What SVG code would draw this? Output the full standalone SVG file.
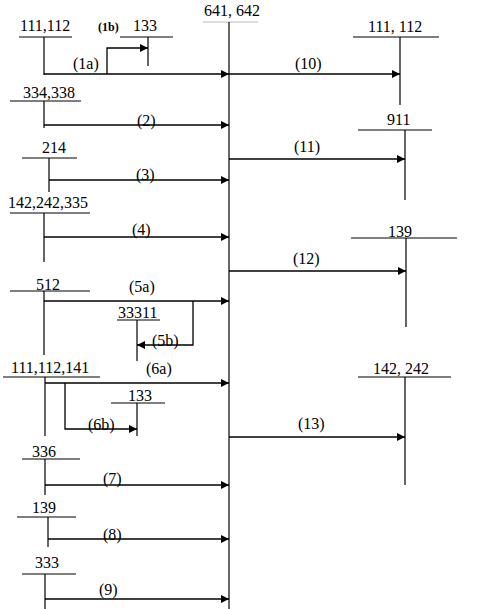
<svg xmlns="http://www.w3.org/2000/svg" width="493" height="609" viewBox="0 0 493 609">
<style>
text{font-family:"Liberation Serif","Times New Roman",serif;font-size:16px;fill:#000}
.sm{font-size:12px;font-weight:bold}
.t{stroke:#000;stroke-width:1.2;fill:none}
.g{stroke:#bbb;stroke-width:1.2;fill:none}
.c{stroke:#000;stroke-width:1.3;fill:none;marker-end:url(#ah)}
</style>
<defs>
<marker id="ah" markerUnits="userSpaceOnUse" markerWidth="9" markerHeight="8" refX="8" refY="4" orient="auto">
<path d="M0,0 L8,4 L0,8 z" fill="#000"/>
</marker>
</defs>
<rect width="493" height="609" fill="#fff"/>
<g id="n641">
<text x="204" y="16">641, 642</text>
<path class="g" d="M203,22 H258"/>
<path class="t" d="M229,22 V609"/>
</g>
<g id="n111L">
<text x="20" y="31">111,112</text>
<path class="t" d="M19,37 H72 M44,37 V75"/>
</g>
<g id="n133a">
<text x="133" y="31">133</text>
<path class="t" d="M120,37 H173 M148,37 V66"/>
</g>
<g id="n334">
<text x="23" y="98">334,338</text>
<path class="t" d="M10,101 H81 M44,101 V128"/>
</g>
<g id="n214">
<text x="42" y="153">214</text>
<path class="t" d="M22,158 H77 M49,158 V192"/>
</g>
<g id="n142L">
<text x="8" y="208">142,242,335</text>
<path class="t" d="M10,213 H90 M44,213 V262"/>
</g>
<g id="n512">
<text x="36" y="290">512</text>
<path class="t" d="M10,291 H90 M44,291 V355"/>
</g>
<g id="n33311">
<text x="118" y="318">33311</text>
<path class="t" d="M117,320 H160 M137,320 V361"/>
</g>
<g id="n111141">
<text x="11" y="373">111,112,141</text>
<path class="t" d="M3,377 H100 M45,377 V436"/>
</g>
<g id="n133b">
<text x="128" y="401">133</text>
<path class="t" d="M111,403 H165 M137,403 V436"/>
</g>
<g id="n336">
<text x="32" y="457">336</text>
<path class="t" d="M22,459 H80 M45,459 V495"/>
</g>
<g id="n139L">
<text x="32" y="513">139</text>
<path class="t" d="M17,517 H76 M48,517 V547"/>
</g>
<g id="n333">
<text x="35" y="568">333</text>
<path class="t" d="M22,574 H76 M45,574 V609"/>
</g>
<g id="n111R">
<text x="368" y="32">111, 112</text>
<path class="t" d="M353,37 H439 M400,37 V105"/>
</g>
<g id="n911">
<text x="387" y="125">911</text>
<path class="t" d="M358,130 H432 M405,130 V200"/>
</g>
<g id="n139R">
<text x="388" y="237">139</text>
<path class="t" d="M351,238 H457 M406,238 V327"/>
</g>
<g id="n142R">
<text x="373" y="374">142, 242</text>
<path class="t" d="M358,377 H451 M405,377 V485"/>
</g>
<g id="connectors">
<path class="c" d="M44,74 H229"/>
<path class="c" d="M107,74 V48 H148"/>
<path class="c" d="M44,125 H229"/>
<path class="c" d="M49,180 H229"/>
<path class="c" d="M44,237 H229"/>
<path class="c" d="M44,301 H229"/>
<path class="c" d="M193,301 V345 H137"/>
<path class="c" d="M45,383 H229"/>
<path class="c" d="M65,383 V429 H137"/>
<path class="c" d="M45,485 H229"/>
<path class="c" d="M48,539 H229"/>
<path class="c" d="M45,599 H229"/>
<path class="c" d="M229,74 H400"/>
<path class="c" d="M229,159 H405"/>
<path class="c" d="M229,271 H406"/>
<path class="c" d="M229,437 H405"/>
<text x="73" y="69">(1a)</text>
<text class="sm" x="98" y="31">(1b)</text>
<text x="137" y="126">(2)</text>
<text x="136" y="180">(3)</text>
<text x="132" y="235">(4)</text>
<text x="129" y="292">(5a)</text>
<text x="152" y="346">(5b)</text>
<text x="146" y="374">(6a)</text>
<text x="88" y="430">(6b)</text>
<text x="103" y="484">(7)</text>
<text x="103" y="540">(8)</text>
<text x="99" y="595">(9)</text>
<text x="295" y="69">(10)</text>
<text x="294" y="152">(11)</text>
<text x="293" y="264">(12)</text>
<text x="298" y="429">(13)</text>
</g>
</svg>
